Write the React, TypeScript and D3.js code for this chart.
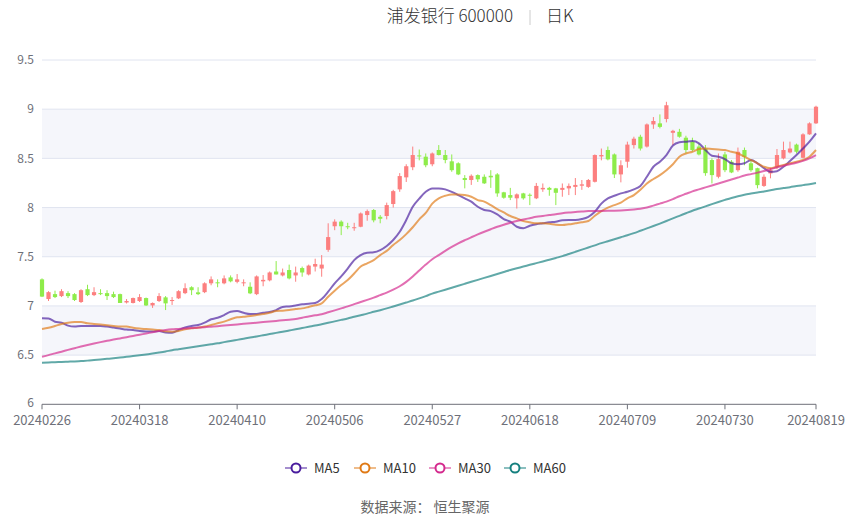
import React from "react";
import * as d3 from "d3";

const dates: string[] = [
  "20240226","20240227","20240228","20240229",
  "20240301","20240304","20240305","20240306","20240307","20240308",
  "20240311","20240312","20240313","20240314","20240315",
  "20240318","20240319","20240320","20240321","20240322",
  "20240325","20240326","20240327","20240328","20240329",
  "20240401","20240402","20240403","20240408","20240409","20240410","20240411","20240412",
  "20240415","20240416","20240417","20240418","20240419",
  "20240422","20240423","20240424","20240425","20240426","20240429","20240430",
  "20240506","20240507","20240508","20240509","20240510",
  "20240513","20240514","20240515","20240516","20240517",
  "20240520","20240521","20240522","20240523","20240524",
  "20240527","20240528","20240529","20240530","20240531",
  "20240603","20240604","20240605","20240606","20240607",
  "20240611","20240612","20240613","20240614",
  "20240617","20240618","20240619","20240620","20240621",
  "20240624","20240625","20240626","20240627","20240628",
  "20240701","20240702","20240703","20240704","20240705",
  "20240708","20240709","20240710","20240711","20240712",
  "20240715","20240716","20240717","20240718","20240719",
  "20240722","20240723","20240724","20240725","20240726",
  "20240729","20240730","20240731","20240801","20240802",
  "20240805","20240806","20240807","20240808","20240809",
  "20240812","20240813","20240814","20240815","20240816",
  "20240819",
];

const openP: number[] = [
  7.27,7.07,7.12,7.10,7.13,7.12,7.04,7.17,7.11,7.13,
  7.13,7.12,7.12,7.035,7.03,7.05,7.08,7.005,7.05,7.087,
  7.05,7.077,7.13,7.19,7.138,7.14,7.23,7.24,7.23,7.29,
  7.245,7.23,7.195,7.12,7.25,7.26,7.35,7.31,7.365,7.31,
  7.385,7.32,7.40,7.38,7.57,7.81,7.857,7.81,7.79,7.805,
  7.924,7.975,7.906,7.914,8.036,8.185,8.307,8.41,8.53,8.517,
  8.44,8.585,8.534,8.47,8.45,8.30,8.28,8.33,8.313,8.323,
  8.337,8.155,8.127,8.094,8.144,8.13,8.094,8.185,8.20,8.195,
  8.18,8.195,8.21,8.222,8.21,8.262,8.52,8.585,8.54,8.337,
  8.466,8.635,8.72,8.62,8.845,8.856,8.90,8.76,8.77,8.71,
  8.67,8.62,8.60,8.483,8.313,8.54,8.466,8.38,8.585,8.45,
  8.40,8.22,8.347,8.415,8.50,8.56,8.64,8.506,8.744,8.856,
];

const closeP: number[] = [
  7.095,7.14,7.09,7.15,7.10,7.06,7.16,7.11,7.14,7.12,
  7.10,7.09,7.03,7.05,7.08,7.09,7.005,7.03,7.10,7.026,
  7.06,7.15,7.18,7.16,7.12,7.23,7.27,7.23,7.28,7.25,
  7.27,7.24,7.128,7.30,7.265,7.34,7.32,7.34,7.28,7.34,
  7.34,7.41,7.426,7.42,7.70,7.857,7.81,7.80,7.80,7.94,
  7.964,7.87,7.886,8.025,8.167,8.32,8.42,8.534,8.52,8.43,
  8.55,8.534,8.483,8.38,8.337,8.28,8.323,8.287,8.246,8.307,
  8.144,8.10,8.10,8.134,8.094,8.12,8.22,8.20,8.18,8.15,
  8.20,8.22,8.23,8.236,8.28,8.534,8.534,8.49,8.337,8.43,
  8.64,8.70,8.60,8.845,8.88,8.82,9.04,8.78,8.72,8.585,
  8.585,8.54,8.35,8.33,8.493,8.38,8.357,8.567,8.517,8.38,
  8.228,8.313,8.38,8.534,8.585,8.60,8.567,8.744,8.856,9.025,
];

const highP: number[] = [
  7.28,7.15,7.155,7.17,7.15,7.13,7.17,7.215,7.19,7.17,
  7.16,7.145,7.125,7.07,7.085,7.12,7.085,7.035,7.13,7.10,
  7.09,7.16,7.23,7.20,7.19,7.24,7.30,7.27,7.31,7.31,
  7.324,7.27,7.24,7.31,7.314,7.35,7.456,7.38,7.42,7.40,
  7.40,7.42,7.48,7.517,7.84,7.88,7.87,7.845,7.845,7.95,
  7.98,7.985,7.924,8.05,8.18,8.35,8.44,8.62,8.59,8.55,
  8.56,8.635,8.585,8.54,8.46,8.33,8.337,8.337,8.337,8.38,
  8.35,8.16,8.20,8.144,8.15,8.144,8.25,8.245,8.21,8.20,
  8.245,8.245,8.30,8.28,8.29,8.54,8.60,8.62,8.55,8.48,
  8.67,8.72,8.74,8.855,8.92,8.947,9.075,8.79,8.80,8.73,
  8.71,8.65,8.635,8.50,8.55,8.567,8.483,8.61,8.61,8.483,
  8.405,8.337,8.405,8.595,8.67,8.67,8.65,8.755,8.866,9.035,
];

const lowP: number[] = [
  7.09,7.05,7.08,7.09,7.08,7.05,7.03,7.10,7.10,7.11,
  7.06,7.08,7.03,7.025,7.025,7.04,7.0,6.98,7.04,6.958,
  7.01,7.07,7.12,7.11,7.11,7.13,7.21,7.19,7.22,7.24,
  7.23,7.20,7.12,7.11,7.20,7.25,7.32,7.30,7.27,7.246,
  7.297,7.31,7.35,7.297,7.55,7.77,7.72,7.78,7.764,7.80,
  7.866,7.85,7.84,7.88,8.00,8.16,8.26,8.38,8.48,8.41,
  8.42,8.53,8.45,8.364,8.33,8.195,8.23,8.26,8.24,8.20,
  8.11,8.09,8.076,7.99,8.08,8.025,8.086,8.16,8.12,8.025,
  8.11,8.127,8.127,8.18,8.20,8.255,8.48,8.48,8.30,8.256,
  8.405,8.60,8.58,8.61,8.80,8.805,8.866,8.635,8.71,8.55,
  8.57,8.53,8.323,8.245,8.297,8.36,8.35,8.364,8.43,8.364,
  8.195,8.21,8.297,8.39,8.49,8.55,8.55,8.50,8.74,8.85,
];

const ma5: number[] = [
  6.874,6.872,6.84,6.83,6.80,6.79,6.796,6.796,6.796,6.796,
  6.79,6.78,6.77,6.76,6.755,6.745,6.74,6.74,6.745,6.73,
  6.728,6.755,6.78,6.796,6.806,6.83,6.864,6.88,6.907,6.94,
  6.948,6.93,6.918,6.918,6.93,6.938,6.958,6.99,6.995,7.005,
  7.016,7.022,7.03,7.07,7.145,7.23,7.30,7.38,7.466,7.517,
  7.54,7.545,7.568,7.61,7.67,7.754,7.873,8.008,8.09,8.16,
  8.195,8.195,8.185,8.16,8.127,8.094,8.06,8.008,7.975,7.964,
  7.93,7.883,7.856,7.805,7.79,7.815,7.83,7.84,7.85,7.856,
  7.87,7.873,7.873,7.883,7.906,7.957,8.04,8.094,8.12,8.144,
  8.16,8.185,8.22,8.313,8.415,8.466,8.534,8.63,8.663,8.67,
  8.676,8.653,8.585,8.527,8.517,8.493,8.45,8.44,8.45,8.483,
  8.45,8.40,8.364,8.37,8.415,8.473,8.534,8.60,8.67,8.754,
];

const ma10: number[] = [
  6.765,6.778,6.796,6.816,6.83,6.836,6.836,6.823,6.816,6.81,
  6.803,6.796,6.79,6.79,6.778,6.77,6.765,6.76,6.755,6.742,
  6.738,6.745,6.762,6.772,6.778,6.79,6.806,6.823,6.84,6.864,
  6.884,6.89,6.897,6.907,6.918,6.93,6.948,6.952,6.958,6.968,
  6.975,6.99,7.006,7.026,7.094,7.155,7.212,7.263,7.33,7.40,
  7.433,7.466,7.517,7.56,7.62,7.67,7.73,7.80,7.88,7.945,
  8.04,8.094,8.12,8.134,8.134,8.127,8.11,8.076,8.06,8.025,
  7.985,7.95,7.914,7.89,7.863,7.85,7.84,7.84,7.835,7.825,
  7.822,7.83,7.84,7.85,7.863,7.917,7.964,8.0,8.025,8.05,
  8.094,8.127,8.18,8.245,8.29,8.33,8.38,8.44,8.517,8.55,
  8.567,8.595,8.60,8.595,8.59,8.585,8.567,8.55,8.517,8.483,
  8.45,8.415,8.40,8.415,8.432,8.45,8.466,8.483,8.517,8.585,
];

const ma30: number[] = [
  6.484,6.50,6.518,6.535,6.553,6.57,6.587,6.603,6.618,6.632,
  6.645,6.658,6.67,6.682,6.695,6.707,6.72,6.732,6.745,6.755,
  6.762,6.766,6.771,6.776,6.78,6.784,6.789,6.794,6.80,6.806,
  6.812,6.818,6.824,6.83,6.836,6.842,6.848,6.854,6.86,6.866,
  6.88,6.892,6.905,6.915,6.935,6.955,6.975,6.995,7.018,7.04,
  7.062,7.085,7.11,7.135,7.165,7.20,7.245,7.30,7.36,7.42,
  7.475,7.517,7.56,7.60,7.636,7.668,7.698,7.727,7.754,7.78,
  7.805,7.826,7.845,7.863,7.878,7.892,7.906,7.915,7.924,7.932,
  7.943,7.95,7.955,7.96,7.964,7.965,7.966,7.967,7.968,7.97,
  7.974,7.98,7.988,8.00,8.02,8.04,8.06,8.085,8.115,8.14,
  8.165,8.185,8.205,8.225,8.245,8.265,8.285,8.305,8.325,8.34,
  8.355,8.372,8.39,8.41,8.425,8.44,8.455,8.475,8.50,8.534,
];

const ma60: number[] = [
  6.423,6.425,6.428,6.43,6.433,6.436,6.44,6.444,6.45,6.456,
  6.462,6.468,6.475,6.483,6.49,6.498,6.507,6.516,6.526,6.537,
  6.55,6.56,6.57,6.58,6.59,6.60,6.61,6.62,6.632,6.643,
  6.655,6.667,6.679,6.69,6.702,6.714,6.726,6.738,6.75,6.762,
  6.775,6.788,6.80,6.814,6.828,6.843,6.858,6.873,6.89,6.906,
  6.922,6.94,6.957,6.975,6.995,7.015,7.035,7.055,7.077,7.10,
  7.125,7.145,7.165,7.185,7.205,7.225,7.245,7.265,7.285,7.305,
  7.325,7.345,7.365,7.383,7.40,7.418,7.435,7.452,7.47,7.488,
  7.506,7.528,7.55,7.572,7.594,7.616,7.638,7.658,7.678,7.698,
  7.718,7.74,7.764,7.788,7.812,7.837,7.863,7.89,7.916,7.942,
  7.968,7.99,8.012,8.035,8.057,8.078,8.098,8.115,8.13,8.142,
  8.153,8.163,8.175,8.188,8.198,8.207,8.218,8.228,8.238,8.25,
];

const yTicks: number[] = [6, 6.5, 7, 7.5, 8, 8.5, 9, 9.5];
const xTickLabels: string[] = [
  "20240226","20240318","20240410","20240506","20240527",
  "20240618","20240709","20240730","20240819",
];

const seriesNames: string[] = ["MA5", "MA10", "MA30", "MA60"];
const seriesData: number[][] = [ma5, ma10, ma30, ma60];
const seriesColors: string[] = ["#4a1d9e", "#e07a16", "#d42a8e", "#16807f"];

const W = 850;
const H = 517;
const FONT = '"Noto Sans CJK SC", "Noto Sans", sans-serif';
const UP = "#fc7f7f";
const DOWN = "#8eec4a";

export default function App() {
  const x = d3.scaleLinear().domain([0, dates.length - 1]).range([42, 816]);
  const y = d3.scaleLinear().domain([6, 9.5]).range([404.3, 60]);
  const bodyW = 4.2;

  const line = d3
    .line<number>()
    .x((_, i) => x(i))
    .y((d) => y(d))
    .curve(d3.curveMonotoneX);

  const legendCx = [296, 365, 440, 515];

  return (
    <svg
      width={W}
      height={H}
      style={{ position: "absolute", left: 0, top: 0, background: "#fff" }}
      fontFamily={FONT}
    >
      {/* title */}
      <text x={513} y={22} textAnchor="end" fontSize={17} fill="#333" fontWeight={300}>
        浦发银行 600000
      </text>
      <line x1={530} x2={530} y1={10} y2={25} stroke="#ccc" strokeWidth={1} />
      <text x={546} y={22} textAnchor="start" fontSize={17} fill="#333" fontWeight={300}>
        日K
      </text>

      {/* split areas */}
      {yTicks.slice(0, -1).map((t, i) => (
        <rect
          key={"band" + i}
          x={x(0)}
          width={x(dates.length - 1) - x(0)}
          y={y(yTicks[i + 1])}
          height={y(t) - y(yTicks[i + 1])}
          fill={i % 2 === 1 ? "#f5f6fb" : "#ffffff"}
        />
      ))}
      {/* grid lines */}
      {yTicks.slice(1).map((t) => (
        <line
          key={"g" + t}
          x1={x(0)}
          x2={x(dates.length - 1)}
          y1={y(t)}
          y2={y(t)}
          stroke="#e0e4f0"
          strokeWidth={1}
        />
      ))}
      {/* y labels */}
      {yTicks.map((t) => (
        <text
          key={"yl" + t}
          x={34}
          y={y(t) - (t === 6 ? 1.5 : 0)}
          dy="0.35em"
          textAnchor="end"
          fontSize={12}
          fill="#6e7079"
        >
          {String(t)}
        </text>
      ))}

      {/* candles */}
      {dates.map((d, i) => {
        const o = openP[i];
        const c = closeP[i];
        const col = c >= o ? UP : DOWN;
        const top = y(Math.max(o, c));
        const bot = y(Math.min(o, c));
        return (
          <g key={"c" + d}>
            <line x1={x(i)} x2={x(i)} y1={y(highP[i])} y2={y(lowP[i])} stroke={col} strokeWidth={1} />
            <rect
              x={x(i) - bodyW / 2}
              y={top}
              width={bodyW}
              height={Math.max(1, bot - top)}
              fill={col}
            />
          </g>
        );
      })}

      {/* MA lines */}
      {seriesData.map((s, k) => (
        <path
          key={"ma" + k}
          d={line(s) || ""}
          fill="none"
          stroke={seriesColors[k]}
          strokeOpacity={0.68}
          strokeWidth={2}
        />
      ))}

      {/* x axis */}
      <line x1={x(0)} x2={x(dates.length - 1)} y1={y(6)} y2={y(6)} stroke="#6e7079" strokeWidth={1} />
      {xTickLabels.map((lab) => {
        const i = dates.indexOf(lab);
        return (
          <g key={"xt" + lab}>
            <line x1={x(i)} x2={x(i)} y1={y(6)} y2={y(6) + 5} stroke="#6e7079" strokeWidth={1} />
            <text x={x(i)} y={y(6) + 20.5} textAnchor="middle" fontSize={13} fill="#6e7079">
              {lab}
            </text>
          </g>
        );
      })}

      {/* legend */}
      {seriesNames.map((n, k) => (
        <g key={"lg" + n}>
          <line
            x1={legendCx[k] - 11}
            x2={legendCx[k] + 11}
            y1={468}
            y2={468}
            stroke={seriesColors[k]}
            strokeOpacity={0.5}
            strokeWidth={2}
          />
          <circle cx={legendCx[k]} cy={468} r={4.5} fill="#fff" stroke={seriesColors[k]} strokeWidth={2} />
          <text x={legendCx[k] + 18} y={468} dy="0.35em" fontSize={13} fill="#333">
            {n}
          </text>
        </g>
      ))}

      {/* footer */}
      <text x={425} y={507} dy="0.35em" textAnchor="middle" fontSize={14} fill="#666">
        数据来源：&nbsp;恒生聚源
      </text>
    </svg>
  );
}
